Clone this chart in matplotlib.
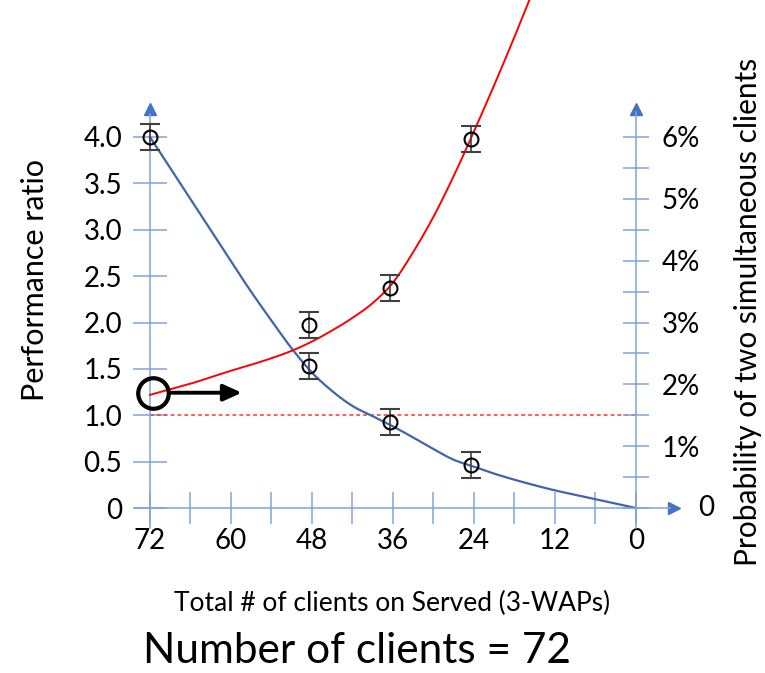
import numpy as np
import matplotlib
matplotlib.use('Agg')
import matplotlib.pyplot as plt

plt.rcParams['font.family'] = ['Lato', 'DejaVu Sans']

# curve: performance ratio vs number of clients
blueX = [72, 66, 60, 57, 54, 51, 48, 45, 42, 39, 36, 33, 30, 27, 24, 21, 18, 15, 12, 9, 6, 3, 0]
blueY = [4.0, 3.33, 2.66, 2.33, 2.02, 1.72, 1.46, 1.26, 1.10, 0.99, 0.88, 0.76, 0.635, 0.52, 0.445,
         0.37, 0.305, 0.245, 0.19, 0.142, 0.095, 0.048, 0.0]

redX = [72, 69, 66, 63, 60, 57, 54, 51, 48, 45, 42, 39, 36, 33, 30, 27, 24, 21, 18, 15]
redY = [1.22, 1.28, 1.34, 1.41, 1.48, 1.545, 1.615, 1.695, 1.795, 1.915, 2.05, 2.21, 2.43, 2.76,
        3.14, 3.58, 4.06, 4.56, 5.08, 5.62]

# measured points with error bars
lowX = [72, 48.5, 36.5, 24.4]
lowY = [4.0, 1.53, 0.93, 0.46]
highX = [48.5, 36.5, 24.4]
highY = [1.97, 2.37, 3.98]
errY = 0.14

xTicks = [72, 60, 48, 36, 24, 12, 0]
leftTicks = [0, 0.5, 1.0, 1.5, 2.0, 2.5, 3.0, 3.5, 4.0]
leftLabels = ['0', '0.5', '1.0', '1.5', '2.0', '2.5', '3.0', '3.5', '4.0']
rightTicks = [0, 1, 2, 3, 4, 5, 6]
rightLabels = ['', '1%', '2%', '3%', '4%', '5%', '6%']

axisCol = '#7FA3DE'
headCol = '#4472C4'


def smoothLine(xs, ys, steps=12):
    # catmull-rom drawing of the line through the given points (like a smoothed line)
    p = np.column_stack([xs, ys]).astype(float)
    p = np.vstack([p[0], p, p[-1]])
    out = []
    t = np.linspace(0, 1, steps, endpoint=False)[:, None]
    for i in range(1, len(p) - 2):
        p0, p1, p2, p3 = p[i - 1], p[i], p[i + 1], p[i + 2]
        seg = 0.5 * ((2 * p1) + (-p0 + p2) * t + (2 * p0 - 5 * p1 + 4 * p2 - p3) * t ** 2
                     + (-p0 + 3 * p1 - 3 * p2 + p3) * t ** 3)
        out.append(seg)
    out.append(p[-2][None, :])
    out = np.vstack(out)
    return out[:, 0], out[:, 1]


fig = plt.figure(figsize=(7.65, 6.73), dpi=100)
ax = fig.add_axes([0.1740, 0.2107, 0.7191, 0.7893])
ax.set_xlim(74.5, -7)
ax.set_ylim(-0.25, 5.477)
for s in ['top', 'right']:
    ax.spines[s].set_visible(False)
ax.spines['left'].set_position(('data', 72))
ax.spines['bottom'].set_position(('data', 0))
ax.spines['left'].set_bounds(-0.22, 4.25)
ax.spines['bottom'].set_bounds(74.2, -5)
for s in ['left', 'bottom']:
    ax.spines[s].set_color(axisCol)
    ax.spines[s].set_linewidth(1.1)

ax.set_xticks(xTicks)
ax.set_xticks(np.arange(0, 73, 6), minor=True)
ax.set_yticks(leftTicks)
ax.set_yticklabels(leftLabels)
ax.tick_params(axis='x', which='both', direction='inout', length=23, width=1.1, color=axisCol,
               labelsize=20, pad=3)
ax.tick_params(axis='y', which='both', direction='inout', length=24, width=1.1, color=axisCol,
               labelsize=20, pad=8)

ax2 = ax.twinx()
ax2.set_ylim(-0.375, 8.2155)
for s in ['top', 'left', 'bottom']:
    ax2.spines[s].set_visible(False)
ax2.spines['right'].set_position(('data', 0))
ax2.spines['right'].set_bounds(-0.33, 6.4)
ax2.spines['right'].set_color(axisCol)
ax2.spines['right'].set_linewidth(1.1)
ax2.set_yticks(rightTicks)
ax2.set_yticklabels(rightLabels)
ax2.set_yticks(np.arange(0.5, 6.1, 1.0), minor=True)
ax2.tick_params(axis='y', which='both', direction='inout', length=19, width=1.1, color=axisCol,
                labelsize=20, pad=9)
ax2.annotate('0', xy=(0, 0), xytext=(45, 0), textcoords='offset points',
             ha='left', va='center', fontsize=20)

# arrow heads on the axes
ax.plot([72], [4.3], marker='^', ms=9, color=headCol, clip_on=False)
ax.plot([-5.6], [0], marker='>', ms=9, color=headCol, clip_on=False)
ax2.plot([0], [6.45], marker='^', ms=9, color=headCol, clip_on=False)

# curves
bx, by = smoothLine(blueX, blueY)
ax.plot(bx, by, color='#4064AD', lw=1.6, zorder=3)
rx, ry = smoothLine(redX, redY)
ax.plot(rx, ry, color='#FF0000', lw=1.4, zorder=3)
ax.plot([72, 0], [1.0, 1.0], color='#FF3030', lw=1.1, ls=(0, (2.5, 2)), zorder=2)

# data points
ax.errorbar(lowX, lowY, yerr=errY, fmt='o', ms=10, mfc='none', mec='black', mew=1.5,
            ecolor='#404040', elinewidth=1.2, capsize=7.5, capthick=1.2, zorder=4)
ax.errorbar(highX, highY, yerr=errY, fmt='o', ms=10, mfc='none', mec='black', mew=1.5,
            ecolor='#404040', elinewidth=1.2, capsize=7.5, capthick=1.2, zorder=4)

# highlighted starting point and arrow
ax.plot([71.55], [1.24], marker='o', ms=22, mfc='none', mec='black', mew=3, zorder=5)
ax.annotate('', xy=(58.4, 1.243), xytext=(68.8, 1.243),
            arrowprops=dict(arrowstyle='-|>,head_length=0.55,head_width=0.25',
                            lw=2.8, color='black', mutation_scale=20, shrinkA=0, shrinkB=0))

fig.text(35 / 765, 1 - 280 / 673, 'Performance ratio', rotation=90, ha='center', va='center',
         fontsize=22)
fig.text(748 / 765, 1 - 312 / 673, 'Probability of two simultaneous clients', rotation=90,
         ha='center', va='center', fontsize=21.5)
fig.text(392 / 765, 1 - 603 / 673, 'Total # of clients on Served (3-WAPs)', ha='center',
         va='center', fontsize=19)
fig.text(357 / 765, 1 - 651 / 673, 'Number of clients = 72', ha='center', va='center',
         fontsize=30.5)

fig.savefig('out.png', dpi=100)
